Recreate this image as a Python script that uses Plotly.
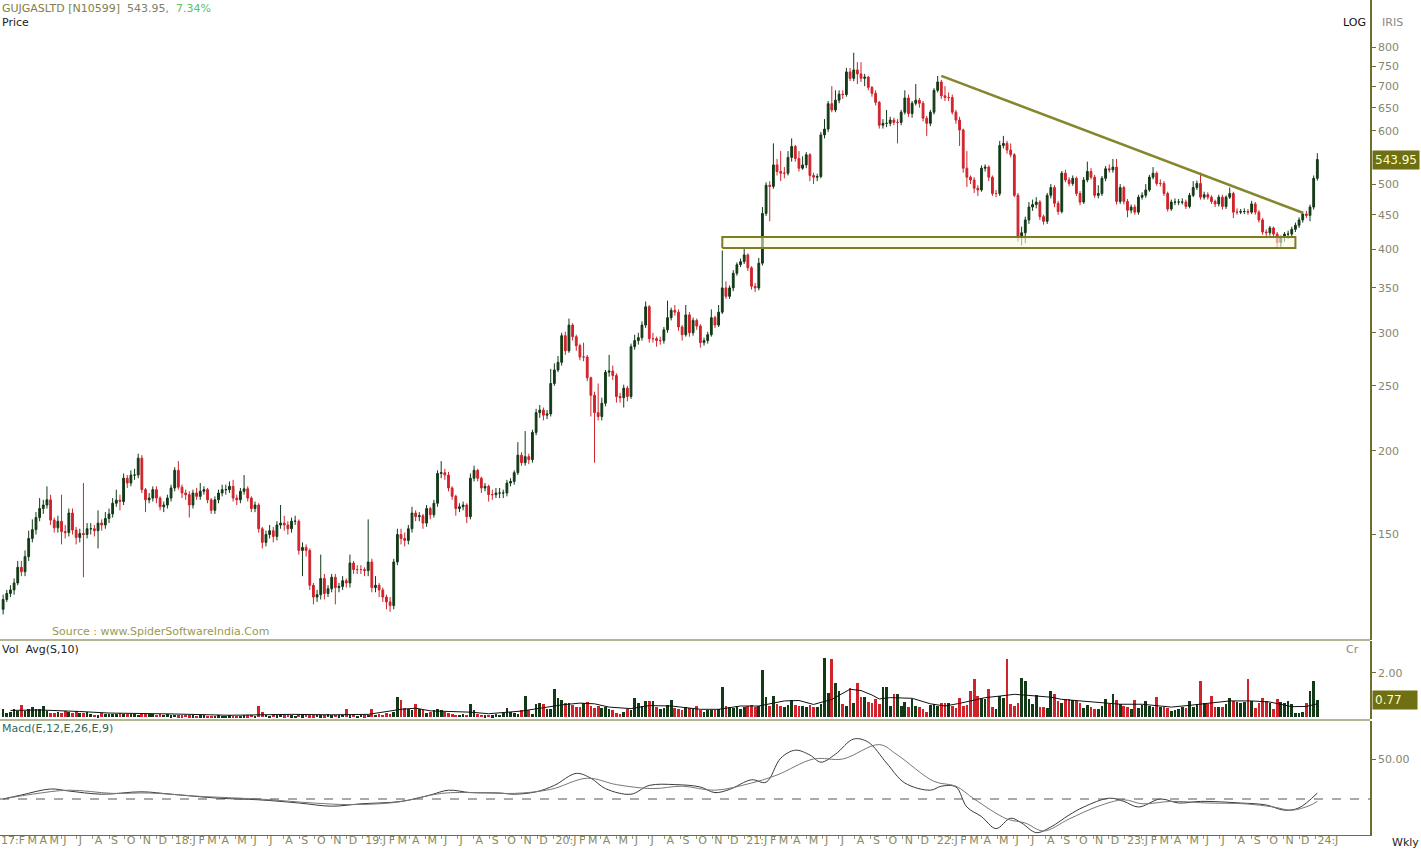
import numpy as np
import pandas as pd
import plotly.graph_objects as go

# ---------------- DATA (weekly, Feb-2017 .. Jan-2024) ----------------
FIRST_OPEN = 116

CLOSE_A = [120,122.5,124,127,134,132,139,148,152.5,159,
           164,166,169,157.6,153.5,157,151.5,151,161.5,152.3,
           148.5,150.5,150,153,153,152,156,155,158.5,161,
           167,168.8,168,182,179,184,184,195,175,169,
           170,175,170,165,166,170,176,187,176.5,173,
           172,166,173,171,174,175,169,163,169,173,
           175,175,177,170,169,174,175.5,170,164,166,
           153,146,150,152,149,155,156,155,153,157,
           157,142,143.5,142,126,121,122,129,122.5,124.5,
           129.5,125,125.5,128,127,136,133,133,133,132.5,
           136.5,125,126,124,121,119,117.5,136.5,150,148,
           147,153,161.5]
HIGH_A = [122,124,126,129,137,137,142,152,158,162,
          170,169,177,172,159,160,172,155,164,164,
          154,153,179,156,156,155,163,158,162,164,
          170,175,172,185,184,187,188,198,197,176,
          173,177,177,171,168,172,178,189,193,178,
          175,174,175,176,179,177,176,170,171,175,
          178,178,180,181,172,176,184,177,171,168,
          167,154,152,155,154,157,166,160,157,159,
          160,158,146,145,143,127,124,140,131,126,
          131,131,127,130,129,140,137,135,135,134,
          158,138,130,127,125,122,121,138,153,153,
          151,155,165]
LOW_A = [114,119,121,122,126,130,130,137,146,150,
         157,161,164,155,151,151,145,148,149,150,
         145,146,129.5,148,150,149,143,152,153,156,
         159,165,163,166,176,177,181,182,173,162,
         167,168,167,163,162,164,168,174,175,170,
         169,159,164,169,169,172,167,161,161,167,
         171,172,173,168,166,167,172,168,162,162,
         151,143,144,148,146,147,153,152,150,151,
         155,140,130,139,124,118,119,120,120,121,
         123,118,123,124,125,125,131,131,131,130,
         130,123,123,121,119,116,115,116,135,145,
         144,145,151]

CLOSE_B = [159.5,160,156,164,160.5,167,185,185.5,184,176,
           171,164,165,166,159.5,182,187,182,176,177,
           172,172,173,173,173,179,180,185.5,197,192,
           196,194,213,228,230,226,227,252,264,271,
           297,282,308,296,287,276,276,257,242,228,
           225,235.5,262,263,259,241,240,248,241,286,
           292,295,308,328,294,294,292,292,303,316,
           324,322,306,298,319,300,313,307,290,292,
           298,316,308,322,350,340,350,368,379,383,
           392,375,352,350,381]
HIGH_B = [163,162,161,166,165,169,187,193,188,186,
          177,172,167,168,167,185,190,188,183,179,
          178,175,176,176,175,181,182,187,206,199,
          214,198,215,231,234,232,230,265,270,277,
          300,301,315,310,298,289,290,278,258,245,
          252,240,264,278,268,261,244,251,250,289,
          298,300,312,334,330,300,296,296,306,335,
          327,330,325,308,330,322,316,315,309,295,
          301,325,318,330,398,358,353,372,382,387,
          400,394,377,356,388]
LOW_B = [157,157,153,154,158,159,165,182,181,174,
         169,160,162,163,156,158,180,180,173,174,
         168,169,170,170,170,171,177,178,184,190,
         190,191,192,211,224,222,223,225,250,262,
         268,278,280,292,282,273,272,254,225,192,
         222,222,233,258,255,236,236,232,237,239,
         283,288,292,305,290,290,286,288,289,300,
         313,318,302,292,296,296,297,303,285,287,
         289,296,305,306,320,337,337,346,365,376,
         380,371,348,345,347]

CLOSE_C = [452,498,496,534,522,519,519,548,569,546,
           528,534,553,515,512,513,592,604,659,645,
           667,681,680,735,719,740,730,719,722,697,
           683,662,612,616,616,623,618,618,640,672,
           637,660,667,660,627,616,640,690,710,677,
           673,673,640,623,602,528,512,507,493,490,
           528,530,512,484,484,571,575,562,553,481,
           417,423,442,462,466,470,447,440,481,494,
           468]
HIGH_C = [462,503,505,575,545,560,530,560,585,572,
          560,550,558,556,520,518,598,625,665,700,
          690,690,690,745,745,785,760,760,730,725,
          700,690,665,625,645,630,628,625,645,690,
          680,665,705,672,665,632,645,695,725,715,
          700,685,680,645,630,605,560,515,512,498,
          533,535,533,515,490,580,590,580,575,556,
          485,432,447,470,474,478,473,450,485,500,
          498]
LOW_C = [378,448,440,492,515,505,510,515,540,540,
         522,525,528,505,500,505,510,585,598,640,
         640,660,670,675,712,712,705,710,700,690,
         675,655,605,605,608,610,612,575,612,635,
         630,628,655,650,620,590,610,635,685,670,
         665,665,635,615,570,520,495,500,485,480,
         487,522,505,480,478,480,565,555,548,478,
         410,405,408,436,456,460,442,435,436,476,
         462]

CLOSE_D = [455,519,507,501,510,484,470,507,522,512,
           481,484,510,527,525,530,471,494,471,457,
           462,454,478,481,490,512,519,501,501,484,
           459,470,470,470,470,463,481,494,501,478,
           482,478,471,467,478,463,478,484,454,454,
           455,455,454,467,454,442,424,423,430,421,
           409,416,421,421,428,434,442,451,449,462,
           510,543.95]
HIGH_D = [472,523,525,512,515,513,488,512,540,528,
          516,498,514,532,535,545,545,500,497,475,
          466,466,482,486,500,516,530,522,508,505,
          487,474,476,475,476,474,485,505,506,520,
          487,486,481,474,482,482,481,494,487,460,
          459,460,459,472,470,457,445,428,433,432,
          424,419,424,426,432,438,446,455,456,466,
          515,556]
LOW_D = [450,452,503,496,497,480,465,467,503,508,
         477,476,480,505,520,520,466,467,466,446,
         452,450,450,474,477,487,508,497,496,480,
         455,456,465,465,466,459,460,478,490,474,
         474,474,467,462,463,458,459,475,445,450,
         451,451,450,451,450,438,420,418,419,416,
         402,400,410,414,417,424,430,438,445,440,
         458,506]

# volume in crore shares
VOL_2017 = [0.35,0.2,0.23,0.38,0.27,0.53,0.27,0.35,0.45,0.38,0.35,0.5,0.27,
            0.2,0.17,0.23,0.2,0.27,0.23,0.2,0.27,0.2,0.17,0.23,0.15,0.1,
            0.08,0.2,0.12,0.15,0.12,0.15,0.18,0.12,0.15,0.12,
            0.15,0.1,0.12,0.15,0.12,0.13,0.1,0.12,0.1,0.12,
            0.08,0.1,0.07,0.08,0.1,0.08,0.07,0.06,0.08,0.07,
            0.06,0.05,0.06,0.08,0.06]
VOL_2018 = [0.05,0.07,0.06,0.05,0.06,0.07,0.08,0.1,0.05,0.5,0.25,
            0.1,0.06,0.12,0.08,0.1,0.07,0.1,0.08,0.06,0.12,
            0.08,0.1,0.07,0.08,0.1,0.07,0.08,0.12,0.08,0.1,0.07,
            0.1,0.35,
            0.08,0.12,0.06,0.1,0.08,0.1,0.38,0.1,0.12,0.1,0.2,0.15]
VOL_2019 = [0.25,0.92,0.75,0.4,0.35,0.3,0.57,0.35,0.3,0.2,
            0.25,0.3,0.38,0.3,0.25,0.2,0.15,0.1,0.1,0.12,0.1,
            0.6,0.3,0.12,0.1,0.08,0.1,0.08,0.15,0.1,0.2,
            0.4,0.25,0.2,0.15,0.3,0.95,0.3,0.15,0.6,0.65,
            0.6,0.35,0.35,1.25,0.85,0.75,0.65,0.65,0.55,0.45,
            0.45,0.65,0.7,0.5,0.4,0.5,0.4,0.45,0.35,0.3,
            0.2,0.15,0.25,0.35]
VOL_2020 = [0.3,0.88,0.65,0.5,0.72,0.72,0.72,0.45,0.35,0.4,
            0.55,0.75,0.4,0.35,0.3,0.45,0.4,0.35,0.5,0.3,
            0.25,0.3,0.3,0.3,0.35,1.38,0.5,0.45,0.4,0.5,
            0.35,0.45,0.5,0.55,0.45,0.5]
VOL_2021 = [2.12,0.9,0.5,0.95,0.6,0.5,0.45,0.55,0.75,0.55,
            0.5,0.5,0.45,0.55,0.45,0.45,0.6,2.7,1.1,2.65,
            1.55,1.2,0.6,0.5,1.3,0.65,1.55,0.9,0.9,0.7,
            0.65,0.8,0.6,1.35,1.35,0.5,1.05,1.05,0.5,0.7,
            0.45,0.8,0.5,0.45,0.35,0.25,0.55,0.6,0.5]
VOL_2022 = [0.62,0.62,0.62,0.5,0.42,0.88,0.5,0.53,1.18,1.71,
            0.95,0.88,0.83,1.26,0.47,0.35,0.95,0.88,2.62,0.58,
            0.5,0.65,1.79,1.64,0.8,0.58,0.98,0.47,0.47,0.42,
            1.18,1.03,0.73,0.65,0.8,0.8,0.76,0.73,0.65,0.42,
            0.53,0.47,0.35,0.35,0.5,0.8,0.58,1.03,0.77,0.58]
VOL_2023 = [0.5,0.47,0.35,0.76,0.42,0.53,0.73,0.5,0.47,0.91,
            0.47,0.45,0.42,0.27,0.32,0.38,0.45,0.42,0.73,0.47,
            0.58,1.64,0.62,0.58,0.95,0.45,0.45,0.47,0.58,0.85,
            0.73,0.68,0.62,0.68,1.74,0.73,0.39,0.65,0.88,0.73,
            0.62,0.35,0.83,0.68,0.62,0.73,0.58,0.2,0.2,0.23,
            0.65,1.18,1.63,0.77]

# 10-week volume average (sampled: week index, value)
VAVG_IDX = [2,10,21,29,46,62,79,90,100,109,113,117,128,133,142,148,153,158,162,166,
            172,177,183,191,196,202,207,214,218,222,227,232,235,238,240,243,249,254,258,262,
            269,273,277,281,287,290,295,301,306,312,320,325,331,336,342,347,353,357,360]
VAVG_VAL = [0.3,0.32,0.25,0.18,0.14,0.08,0.12,0.1,0.12,0.35,0.4,0.28,0.22,0.15,0.27,0.42,0.55,0.63,0.6,0.45,
            0.38,0.52,0.5,0.35,0.35,0.5,0.5,0.73,0.75,0.57,0.8,1.26,1.2,1.0,0.82,0.88,0.85,0.6,0.5,0.62,
            0.88,0.95,1.03,0.98,0.9,0.8,0.73,0.62,0.58,0.58,0.45,0.53,0.65,0.73,0.73,0.68,0.47,0.48,0.6]

MACD_IDX = [0,5,13,18,27,38,46,59,70,81,90,98,109,117,122,128,136,140,146,151,157,161,165,172,177,
            184,191,195,199,205,209,213,217,221,224,228,233,237,242,247,254,257,261,264,268,272,276,
            279,283,287,292,296,303,307,311,317,322,328,339,346,351,355,360]
MACD_VAL = [0,5,12.5,10,6,9,6,1,-1,-5,-9,-6,-3,5,11,8,7.5,6,9,17,32,26,13,6,17,
            18,15,8,12,24,21,51,61,55,46,56,75,71,45,20,11,16,15,-10,-22,-37,-24,
            -30,-42,-35,-20,-10,1,-3,-10,0,-5,-3,-5,-7.5,-14,-11,7.5]
SIG_IDX = [0,8,18,30,40,55,70,85,95,108,120,130,140,150,160,168,178,186,195,205,212,222,230,240,
           245,255,261,266,275,280,285,292,300,307,312,320,330,340,348,353,358,360]
SIG_VAL = [0,6,11,7,7.5,3,0,-5,-7,-4,7,8,7,12,26,18,13,16,11,20,30,50,50,68,
           55,22,16,0,-25,-30,-40,-25,-9,-1,-6,-3,-5,-6,-10,-14,-8,-3]

# drawn objects: support zone and falling trend line
ZONE_LOW, ZONE_HIGH = 401.5, 417
ZONE_START_WEEK, ZONE_END_WEEK = 197, 354
TREND_START_WEEK, TREND_START_PRICE = 257, 725
TREND_END_WEEK, TREND_END_PRICE = 356, 453

MONTH_LETTERS = ["J", "F", "M", "A", "M", "J", "J", "A", "S", "O", "N", "D"]

# ---------------- BUILD ----------------
close = CLOSE_A + CLOSE_B + CLOSE_C + CLOSE_D
high = HIGH_A + HIGH_B + HIGH_C + HIGH_D
low = LOW_A + LOW_B + LOW_C + LOW_D
opens = [FIRST_OPEN] + close[:-1]
vol = VOL_2017 + VOL_2018 + VOL_2019 + VOL_2020 + VOL_2021 + VOL_2022 + VOL_2023
n = len(close)
dates = pd.date_range(end="2024-01-05", periods=n, freq="W-FRI")

UP = "#133a17"
DN = "#d0232b"
OLIVE = "#6e6e2e"
TXT = "#86866e"
PLOT_W = 1370.0

x_start = dates[0] - pd.Timedelta(days=6)
x_end = dates[0] + pd.Timedelta(days=2621)
days_per_px = (x_end - x_start) / pd.Timedelta(days=1) / PLOT_W

fig = go.Figure()
# support zone box (drawn first, below candles)
zx = [dates[ZONE_START_WEEK], dates[ZONE_END_WEEK], dates[ZONE_END_WEEK], dates[ZONE_START_WEEK], dates[ZONE_START_WEEK]]
zy = [ZONE_LOW, ZONE_LOW, ZONE_HIGH, ZONE_HIGH, ZONE_LOW]
fig.add_trace(go.Scatter(x=zx, y=zy, mode="lines", fill="toself", fillcolor="rgba(250,250,225,0.6)",
                         line=dict(color="#7c7c26", width=2), yaxis="y", hoverinfo="skip", showlegend=False))

fig.add_trace(go.Candlestick(
    x=dates, open=opens, high=high, low=low, close=close,
    increasing=dict(line=dict(color=UP, width=1), fillcolor=UP),
    decreasing=dict(line=dict(color=DN, width=1), fillcolor=DN),
    whiskerwidth=0, yaxis="y", showlegend=False))

fig.add_trace(go.Scatter(x=[dates[TREND_START_WEEK], dates[TREND_END_WEEK]],
                         y=[TREND_START_PRICE, TREND_END_PRICE], mode="lines",
                         line=dict(color="#86862e", width=2.5), yaxis="y", showlegend=False, hoverinfo="skip"))

vcol = [UP if c >= o else DN for o, c in zip(opens, close)]
fig.add_trace(go.Bar(x=dates, y=vol, marker=dict(color=vcol, line=dict(width=0)),
                     width=5.2 * 86400000, yaxis="y2", showlegend=False))
fig.add_trace(go.Scatter(x=dates[VAVG_IDX], y=VAVG_VAL, mode="lines",
                         line=dict(color="#111111", width=1), yaxis="y2", showlegend=False))

fig.add_trace(go.Scatter(x=dates[MACD_IDX], y=MACD_VAL, mode="lines", line=dict(color="#3a3a3a", width=1),
                         line_shape="spline", yaxis="y3", showlegend=False))
fig.add_trace(go.Scatter(x=dates[SIG_IDX], y=SIG_VAL, mode="lines", line=dict(color="#777777", width=1),
                         line_shape="spline", yaxis="y3", showlegend=False))

# x tick labels: month letters (year prefix on January), left aligned at month start,
# pushed right when they would collide with the previous label (as the source terminal does)
CHAR_W = {"J": 3.6, "F": 6.3, "M": 9.5, "A": 7.5, "S": 7.0, "O": 8.7, "N": 8.2, "D": 8.5, ":": 3.7}
def text_w(s):
    return sum(CHAR_W.get(ch, 7.0) for ch in s)

months = pd.date_range("2017-02-01", "2024-01-01", freq="MS")
tickvals, ticktext, minorvals = [], [], []
prev_right = -10.0
for k, m in enumerate(months):
    if m.month == 1 or k == 0:
        lab = f"{m.year % 100:02d}:{MONTH_LETTERS[m.month - 1]}"
    else:
        lab = MONTH_LETTERS[m.month - 1]
    px_start = (m - x_start) / pd.Timedelta(days=1) / days_per_px
    left = max(px_start + 2.0, prev_right + 2.5, 1.0)
    w = text_w(lab)
    center = left + w / 2.0
    prev_right = left + w
    tickvals.append(x_start + pd.Timedelta(days=center * days_per_px))
    ticktext.append(lab)
    if m >= x_start:
        minorvals.append(m)

H = 835.0
def py(px):
    return (H - px) / H

fig.update_layout(
    width=1421, height=851, template="none",
    paper_bgcolor="white", plot_bgcolor="white",
    margin=dict(l=0, r=51, t=0, b=16),
    font=dict(family="DejaVu Sans", size=11, color=TXT),
    showlegend=False, hovermode=False,
    xaxis=dict(domain=[0, 1], anchor="y3", type="date",
               range=[x_start, x_end],
               rangeslider=dict(visible=False), showgrid=False, zeroline=False,
               showline=True, linecolor=OLIVE, linewidth=1,
               tickmode="array", tickvals=tickvals, ticktext=ticktext, ticks="", tickangle=0,
               ticklabelstandoff=-5,
               minor=dict(tickmode="array", tickvals=minorvals, ticks="outside", ticklen=3,
                          tickcolor="#9a9a7a", showgrid=False),
               tickfont=dict(family="DejaVu Sans", size=11, color="#8a8a5e"), automargin=False),
    yaxis=dict(domain=[py(640), 1], type="log", anchor="x", side="right",
               range=[np.log10(104.4), np.log10(941)],
               tickmode="array", tickvals=[150, 200, 250, 300, 350, 400, 450, 500, 600, 650, 700, 750, 800],
               ticks="outside", ticklen=4, tickcolor=OLIVE, showline=True, linecolor=OLIVE, linewidth=1.5,
               showgrid=False, zeroline=False, tickfont=dict(size=11, color=TXT), automargin=False),
    yaxis2=dict(domain=[py(719), py(641)], anchor="x", side="right", range=[-0.09, 3.45],
                tickmode="array", tickvals=[2.0], ticktext=["2.00"],
                ticks="outside", ticklen=4, tickcolor=OLIVE, showline=True, linecolor=OLIVE, linewidth=1.5,
                showgrid=False, zeroline=False, tickfont=dict(size=11, color=TXT), automargin=False),
    yaxis3=dict(domain=[0, py(721)], anchor="x", side="right", range=[-45, 97.5],
                tickmode="array", tickvals=[50], ticktext=["50.00"],
                ticks="outside", ticklen=4, tickcolor=OLIVE, showline=True, linecolor=OLIVE, linewidth=1.5,
                showgrid=False, zeroline=False, tickfont=dict(size=11, color=TXT), automargin=False),
    bargap=0,
)

# panel separators and MACD zero line
fig.add_shape(type="line", xref="paper", yref="paper", x0=0, x1=1, y0=py(640), y1=py(640),
              line=dict(color=OLIVE, width=1.2))
fig.add_shape(type="line", xref="paper", yref="paper", x0=0, x1=1, y0=py(720), y1=py(720),
              line=dict(color=OLIVE, width=1.2))
fig.add_shape(type="line", xref="paper", yref="y3", x0=0, x1=1, y0=0, y1=0,
              line=dict(color="#555555", width=1, dash="dash"))

ann = []
ann.append(dict(xref="paper", yref="paper", x=0.0, y=py(8), xanchor="left", yanchor="middle", showarrow=False,
                text="<span style='color:#80804a'>GUJGASLTD [N10599]</span>  "
                     "<span style='color:#80806a'>543.95,</span>  <span style='color:#5cc05c'>7.34%</span>",
                font=dict(size=11)))
ann.append(dict(xref="paper", yref="paper", x=0.0, y=py(22), xanchor="left", yanchor="middle", showarrow=False,
                text="Price", font=dict(size=11, color="#222222")))
ann.append(dict(xref="paper", yref="paper", x=50 / PLOT_W, y=py(631), xanchor="left", yanchor="middle",
                showarrow=False, text="Source : www.SpiderSoftwareIndia.Com", font=dict(size=11, color="#9a9a4e")))
ann.append(dict(xref="paper", yref="paper", x=0.0, y=py(649), xanchor="left", yanchor="middle", showarrow=False,
                text="Vol  Avg(S,10)", font=dict(size=11, color="#222222")))
ann.append(dict(xref="paper", yref="paper", x=0.0, y=py(728), xanchor="left", yanchor="middle", showarrow=False,
                text="Macd(E,12,E,26,E,9)", font=dict(size=11, color="#2f6a58")))
ann.append(dict(xref="paper", yref="paper", x=1361 / PLOT_W, y=py(649), xanchor="right", yanchor="middle",
                showarrow=False, text="Cr", font=dict(size=11, color="#888888")))
ann.append(dict(xref="paper", yref="paper", x=1368 / PLOT_W, y=py(22), xanchor="right", yanchor="middle",
                showarrow=False, text="LOG", font=dict(size=11, color="#111111")))
ann.append(dict(xref="paper", yref="paper", x=1380 / PLOT_W, y=py(22), xanchor="left", yanchor="middle",
                showarrow=False, text="IRIS", font=dict(size=11, color="#888888")))
ann.append(dict(xref="paper", yref="paper", x=1421 / PLOT_W, y=py(842), xanchor="right", yanchor="middle",
                showarrow=False, text="Wkly", font=dict(size=11, color="#222222")))
ann.append(dict(xref="paper", yref="y", x=1372 / PLOT_W, y=np.log10(close[-1]), xanchor="left", yanchor="middle",
                showarrow=False, text=f"{close[-1]:.2f}", bgcolor="#6f6f14", borderpad=2,
                font=dict(size=12, color="#ffffc8")))
ann.append(dict(xref="paper", yref="y2", x=1372 / PLOT_W, y=vol[-1], xanchor="left", yanchor="middle",
                showarrow=False, text=f"{vol[-1]:.2f}", bgcolor="#6f6f14", borderpad=2, width=40, align="left",
                font=dict(size=12, color="#ffffc8")))
fig.update_layout(annotations=ann)

fig.write_html("out.html", config={"displayModeBar": False},
               post_script="document.body.style.margin='0px';document.body.style.overflow='hidden';")
